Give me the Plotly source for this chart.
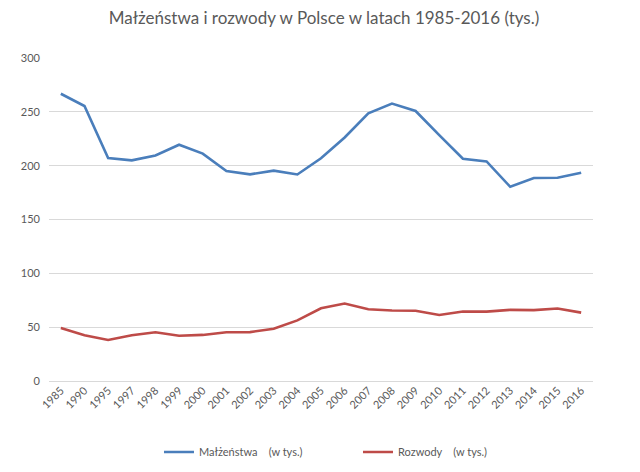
import plotly.graph_objects as go

years = ["1985", "1990", "1995", "1997", "1998", "1999", "2000", "2001", "2002", "2003",
         "2004", "2005", "2006", "2007", "2008", "2009", "2010", "2011", "2012", "2013",
         "2014", "2015", "2016"]
malzenstwa = [266.8, 255.4, 207.1, 204.9, 209.4, 219.4, 211.2, 195.1, 191.9, 195.4,
              191.8, 206.9, 226.2, 248.7, 257.7, 250.8, 228.3, 206.5, 203.9, 180.4,
              188.5, 188.8, 193.5]
rozwody = [49.2, 42.4, 38.1, 42.5, 45.2, 42.0, 42.8, 45.3, 45.4, 48.6,
           56.3, 67.6, 71.9, 66.6, 65.5, 65.3, 61.3, 64.6, 64.4, 66.1,
           65.8, 67.3, 63.5]
y_ticks = [0, 50, 100, 150, 200, 250, 300]

nb = "\u00a0"
fig = go.Figure()
fig.add_trace(go.Scatter(x=years, y=malzenstwa, mode="lines",
                         name="Małżeństwa" + nb * 4 + "(w tys.)",
                         line=dict(color="#4a7ebb", width=2.6)))
fig.add_trace(go.Scatter(x=years, y=rozwody, mode="lines",
                         name="Rozwody" + nb * 4 + "(w tys.)",
                         line=dict(color="#be4b48", width=2.6)))

fig.update_layout(
    width=632, height=464,
    margin=dict(l=41, r=47, t=50, b=91, autoexpand=False),
    paper_bgcolor="white", plot_bgcolor="white",
    font=dict(family="Lato, Open Sans, sans-serif", color="#595959", size=11),
    title=dict(text="Małżeństwa i rozwody w Polsce w latach 1985-2016 (tys.)",
               x=0.5, xanchor="center", y=0.978, yanchor="middle",
               font=dict(size=17, color="#595959")),
    showlegend=True,
    legend=dict(orientation="h", x=0.568, xanchor="center", y=-0.22, yanchor="middle",
                font=dict(size=11, color="#595959"), itemwidth=30,
                entrywidth=154, entrywidthmode="pixels"),
    xaxis=dict(type="category", range=[-0.5, len(years) - 0.5], tickangle=-45,
               showgrid=False, showline=False, automargin=False,
               ticks="", tickfont=dict(size=11, color="#595959"), fixedrange=True),
    yaxis=dict(range=[0, 300], tickvals=y_ticks, showgrid=True, gridcolor="#d9d9d9",
               gridwidth=1, zeroline=True, zerolinecolor="#d9d9d9", zerolinewidth=1,
               showline=False, ticks="", ticklabelstandoff=8, automargin=False,
               tickfont=dict(size=11, color="#595959")),
)

fig.write_html("out.html")
